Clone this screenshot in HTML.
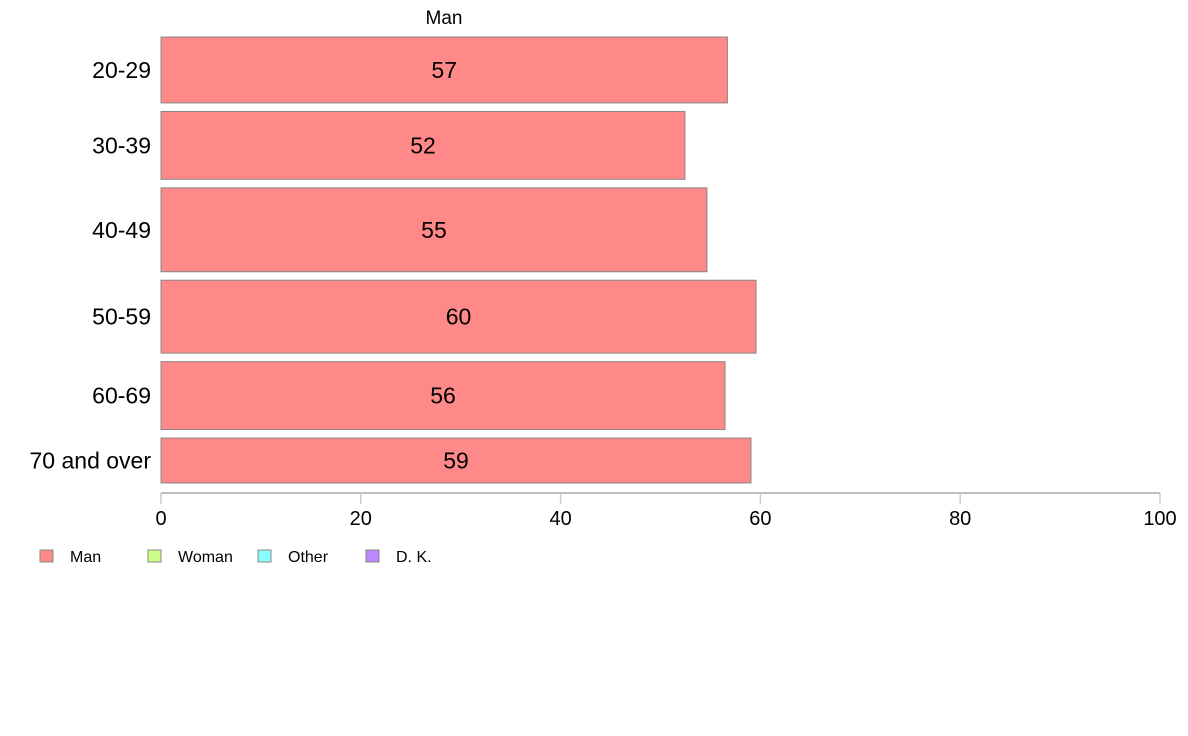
<!DOCTYPE html>
<html><head><meta charset="utf-8"><style>
body{margin:0;background:#fff;}
svg{display:block;font-family:"Liberation Sans",Arial,sans-serif;}
</style></head><body>
<svg id="chart" width="1188" height="736">
<text x="444" y="24" font-size="19" text-anchor="middle">Man</text>
<g id="bars"></g>
<g id="axis"></g>
<g id="legend"></g>
</svg>
<script>
const categories = ["20-29","30-39","40-49","50-59","60-69","70 and over"];
const values = [56.7, 52.45, 54.65, 59.56, 56.46, 59.06];
const labels = ["57","52","55","60","56","59"];
const weights = [66, 68, 84, 73, 68, 45];
const ticks = [0,20,40,60,80,100];
const legendNames = ["Man","Woman","Other","D. K."];
const legendColors = ["#ff8888","#ccff88","#88ffff","#bb88ff"];

const NS="http://www.w3.org/2000/svg";
function mk(t,a,p){const e=document.createElementNS(NS,t);for(const k in a)e.setAttribute(k,a[k]);p.appendChild(e);return e;}
const x0=161,x1=1160,yTop=37,yBot=483,gap=8.5;
const xs=v=>x0+(v/100)*(x1-x0);
const totalW=weights.reduce((a,b)=>a+b,0);
const avail=(yBot-yTop)-gap*(categories.length-1);
const bars=document.getElementById('bars');
let y=yTop;
categories.forEach((c,i)=>{
  const h=weights[i]/totalW*avail;
  const r=mk('rect',{x:x0,y:y,width:xs(values[i])-x0,height:h,fill:"#ff8888",stroke:"#888",'stroke-width':1},bars);
  
  
  const t=mk('text',{x:(x0+xs(values[i]))/2,y:y+h/2+8,'font-size':23,'text-anchor':'middle'},bars);
  t.textContent=labels[i];
  
  
  const l=mk('text',{x:151,y:y+h/2+8,'font-size':23,'text-anchor':'end'},bars);
  l.textContent=c;
  
  
  y+=h+gap;
});
const ax=document.getElementById('axis');
mk('line',{x1:x0,x2:x1,y1:493,y2:493,stroke:"#aaa",'stroke-width':1.5},ax);
ticks.forEach(tk=>{
  mk('line',{x1:xs(tk),x2:xs(tk),y1:493,y2:504,stroke:"#ccc",'stroke-width':1.5},ax);
  const t=mk('text',{x:xs(tk),y:525,'font-size':20,'text-anchor':'middle'},ax);
  t.textContent=tk;
  
  
});
const lg=document.getElementById('legend');
const lx=[40,148,258,366];
legendNames.forEach((n,i)=>{
  const r=mk('rect',{x:lx[i],y:550,width:13,height:12,fill:legendColors[i],stroke:"#888",'stroke-width':1},lg);
  
  
  const t=mk('text',{x:lx[i]+30,y:562,'font-size':16},lg);
  t.textContent=n;
  
  
});
</script>
</body></html>
